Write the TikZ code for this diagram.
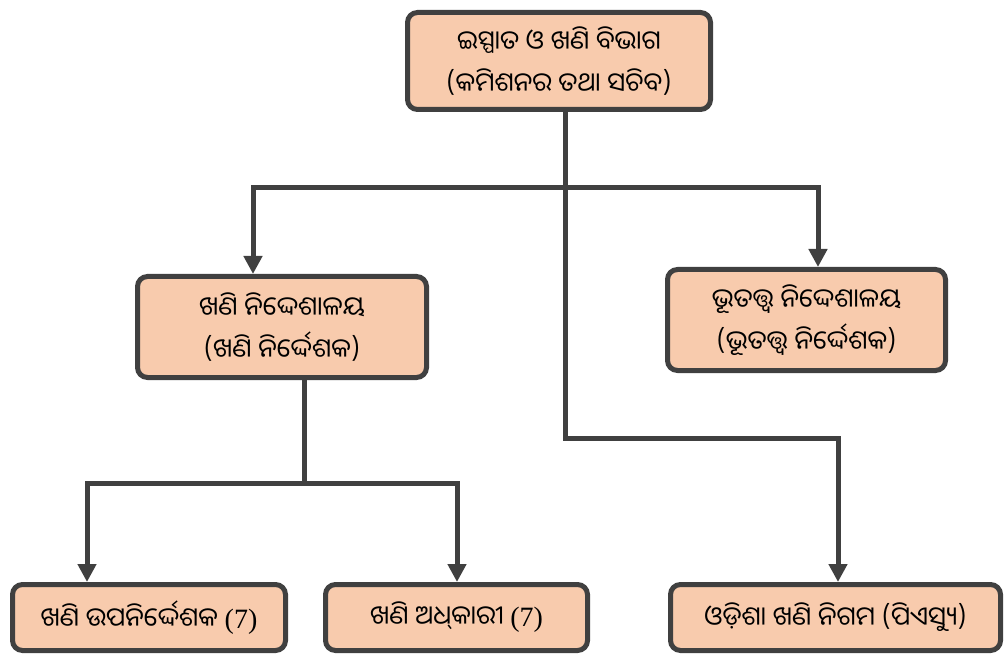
\documentclass[tikz,border=0pt]{standalone}
\usepackage{fontspec}
\newfontfamily\odia[Script=Oriya]{Noto Sans Oriya UI}
\newfontfamily\serifnum{Liberation Serif}
\usetikzlibrary{arrows.meta}
\definecolor{boxfill}{HTML}{F8CBAD}
\definecolor{edge}{HTML}{404040}
\begin{document}
\begin{tikzpicture}[x=1pt,y=-1pt,
  orgbox/.style={draw=edge, line width=5pt, fill=boxfill, rounded corners=10pt,
    inner sep=0pt, align=center, font=\odia\fontsize{26}{42}\selectfont, text=black},
  link/.style={draw=edge, line width=5pt},
  arr/.style={link,{Triangle[length=18pt,width=18pt]}-{Triangle[length=18pt,width=18pt]}},
  arrone/.style={link,-{Triangle[length=18pt,width=18pt]}}]
\useasboundingbox (0,0) rectangle (1005,663);
\node[orgbox, minimum width=303pt, minimum height=97pt] (top) at (559,61)
  {ଇସ୍ପାତ ଓ ଖଣି ବିଭାଗ\\(କମିଶନର ତଥା ସଚିବ)};
\node[orgbox, minimum width=289pt, minimum height=101pt] (lm) at (282,327)
  {ଖଣି ନିଦ୍ଦେଶାଳୟ\\(ଖଣି ନିର୍ଦ୍ଦେଶକ)};
\node[orgbox, minimum width=278pt, minimum height=101pt] (rm) at (806.5,320)
  {ଭୂତତ୍ତ୍ୱ ନିଦ୍ଦେଶାଳୟ\\(ଭୂତତ୍ତ୍ୱ ନିର୍ଦ୍ଦେଶକ)};
\node[orgbox, minimum width=273pt, minimum height=66pt] (bl) at (149,617.5)
  {ଖଣି ଉପନିର୍ଦ୍ଦେଶକ {\serifnum\fontsize{28}{34}\selectfont (7)}};
\node[orgbox, minimum width=262pt, minimum height=66pt] (bm) at (456.5,617.5)
  {ଖଣି ଅଧ୍‌କାରୀ {\serifnum\fontsize{28}{34}\selectfont (7)}};
\node[orgbox, minimum width=330pt, minimum height=66pt] (br) at (835.5,617.5)
  {ଓଡ଼ିଶା ଖଣି ନିଗମ (ପିଏସ୍ୟୁ)};
\coordinate (j1) at (565,188);
\coordinate (jL) at (253,188);
\coordinate (jR) at (818,188);
\coordinate (j2) at (565,438);
\coordinate (j3) at (838,438);
\coordinate (k1) at (304,483);
\coordinate (kL) at (87,483);
\coordinate (kR) at (457,483);
\draw[arr] (lm.north -| jL) -- (jL) -- (jR) -- (rm.north -| jR);
\draw[arrone] (top.south -| j1) -- (j2) -- (j3) -- (br.north -| j3);
\draw[link] (lm.south -| k1) -- (k1);
\draw[arr] (bl.north -| kL) -- (kL) -- (kR) -- (bm.north -| kR);
\end{tikzpicture}
\end{document}
